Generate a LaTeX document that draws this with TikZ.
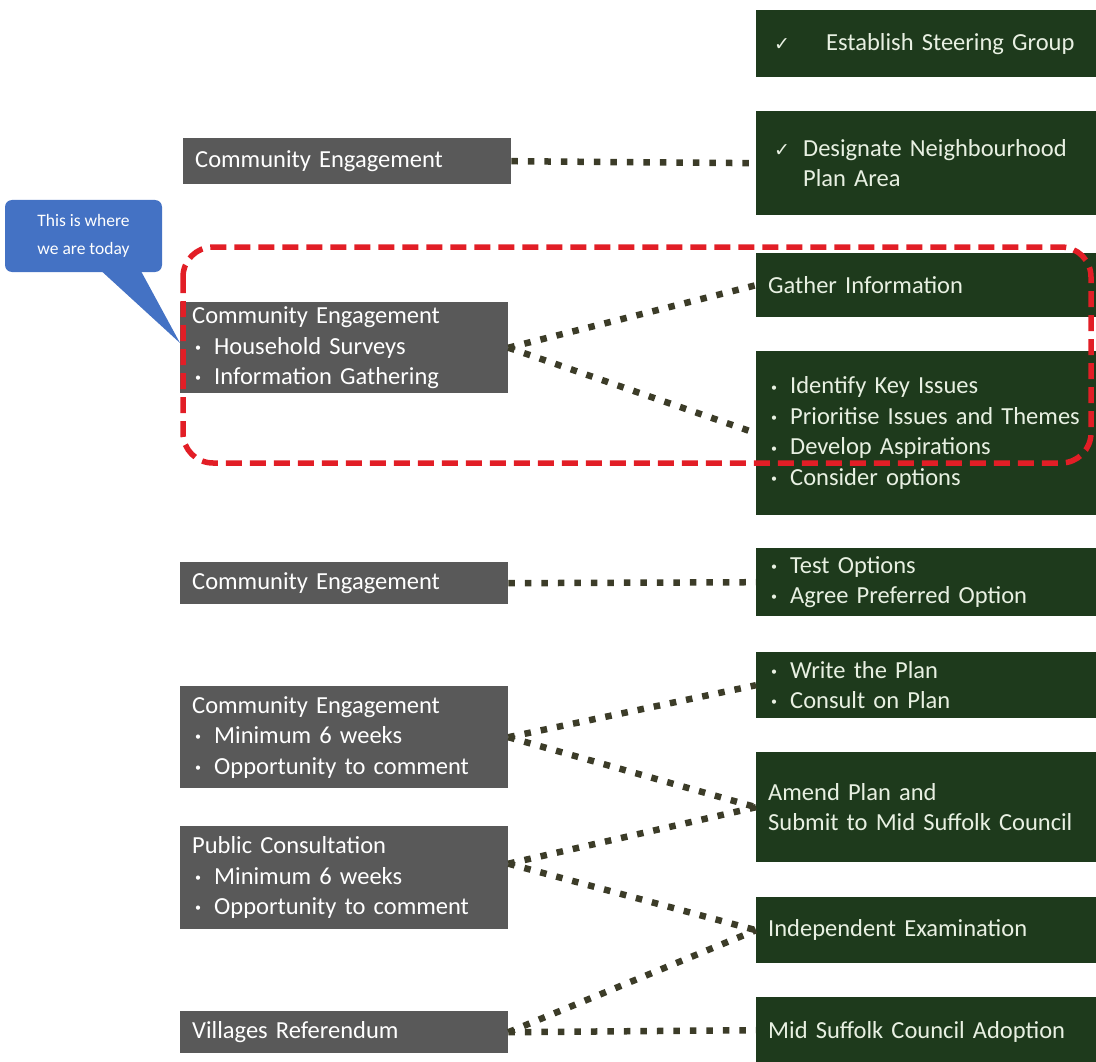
\documentclass[tikz,border=0pt]{standalone}
\usepackage{fontspec}
\setmainfont{Carlito}
\newfontfamily\symfont{DejaVu Sans}
\usepackage{xcolor}
\usepackage{tikz}
\usetikzlibrary{positioning, calc}
\definecolor{stagegrey}{RGB}{89,89,89}
\definecolor{taskgreen}{RGB}{30,58,28}
\definecolor{tasktext}{RGB}{232,240,226}
\definecolor{linkolive}{RGB}{60,60,40}
\definecolor{nowred}{RGB}{226,30,38}
\definecolor{calloutblue}{RGB}{68,114,196}
\tikzstyle{stage} = [rectangle, anchor=north west, fill=stagegrey, text=white, align=left, text width=304pt, inner xsep=12pt, inner ysep=0pt, font=\fontsize{24.5}{30.5}\selectfont]
\tikzstyle{task} = [rectangle, anchor=north west, fill=taskgreen, text=tasktext, align=left, text width=336pt, inner xsep=12pt, inner ysep=0pt, font=\fontsize{24.5}{30.5}\selectfont]
\tikzstyle{link} = [line width=6.5pt, dash pattern=on 6.5pt off 10pt, draw=linkolive]
\tikzstyle{nowframe} = [draw=nowred, line width=5.5pt, dash pattern=on 16pt off 8pt, rounded corners=30pt]
\tikzstyle{callout} = [rectangle, rounded corners=7pt, fill=calloutblue, text=white, align=center, minimum width=157pt, minimum height=72pt, inner sep=2pt, font=\fontsize{17.5}{28}\selectfont]
\newcommand{\checkglyph}{{\symfont\fontsize{19}{19}\selectfont ✓}}
\newcommand{\bull}{\makebox[22pt][l]{\hspace{3pt}\raisebox{0.25ex}{\fontsize{12}{12}\selectfont\textbullet}}}

\begin{document}
\begin{tikzpicture}[x=1pt, y=-1pt]
\useasboundingbox (0,0) rectangle (1096,1062);
\clip (0,0) rectangle (1096,1062);

% callout
\node [callout] (today) at (83.5,236) {This is where\\we are today};
\fill [calloutblue] ($(today.south)+(17,-2)$) -- (180,343) -- ($(today.south)+(57,-2)$) -- cycle;

% engagement stages
\node [stage, minimum height=46pt] (ce1) at (183,138) {Community Engagement};
\node [stage, minimum height=91pt] (ce2) at (180,302) {Community Engagement\\\bull Household Surveys\\\bull Information Gathering};
\node [stage, minimum height=42pt] (ce3) at (180,562) {Community Engagement};
\node [stage, minimum height=102pt] (ce4) at (180,686) {Community Engagement\\\bull Minimum 6 weeks\\\bull Opportunity to comment};
\node [stage, minimum height=103pt] (pc) at (180,826) {Public Consultation\\\bull Minimum 6 weeks\\\bull Opportunity to comment};
\node [stage, minimum height=42pt] (vr) at (180,1011) {Villages Referendum};

% plan tasks
\node [task, minimum height=67pt] (steer) at (756,10) {\makebox[58pt][l]{\hspace{6pt}\checkglyph}Establish Steering Group};
\node [task, minimum height=104pt] (area) at (756,111) {\makebox[35pt][l]{\hspace{6pt}\checkglyph}Designate Neighbourhood\\\makebox[35pt]{}Plan Area};
\node [task, minimum height=64pt] (gather) at (756,253) {Gather Information};
\node [task, minimum height=164pt] (issues) at (756,351) {\bull Identify Key Issues\\\bull Prioritise Issues and Themes\\\bull Develop Aspirations\\\bull Consider options};
\node [task, minimum height=68pt] (options) at (756,548) {\bull Test Options\\\bull Agree Preferred Option};
\node [task, minimum height=66pt] (write) at (756,652) {\bull Write the Plan\\\bull Consult on Plan};
\node [task, minimum height=110pt] (submit) at (756,752) {Amend Plan and\\Submit to Mid Suffolk Council};
\node [task, minimum height=66pt] (exam) at (756,897) {Independent Examination};
\node [task, minimum height=70pt] (adopt) at (756,997) {Mid Suffolk Council Adoption};

% dotted links
\draw [link] (ce1.east) -- (area.west);
\draw [link] (ce2.east) -- (gather.west);
\draw [link] (ce2.east) -- (issues.west);
\draw [link] (ce3.east) -- (options.west);
\draw [link] (ce4.east) -- (write.west);
\draw [link] (ce4.east) -- (submit.west);
\draw [link] ([yshift=14pt]pc.east) -- (submit.west);
\draw [link] ([yshift=14pt]pc.east) -- (exam.west);
\draw [link] (vr.east) -- (exam.west);
\draw [link] (vr.east) -- ([yshift=2pt]adopt.west);

% where we are today
\draw [nowframe] (183,247) rectangle (1091,463);
\end{tikzpicture}
\end{document}
